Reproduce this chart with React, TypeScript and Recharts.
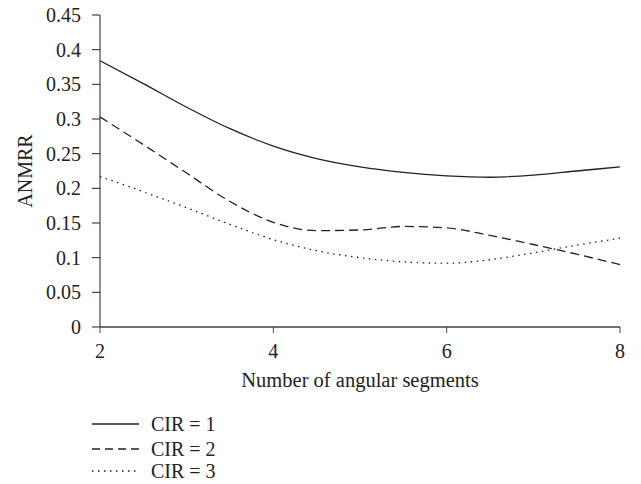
import React from "react"
import { LineChart, Line, XAxis, YAxis, Label } from "recharts"

// x positions (number of angular segments)
const segments = [2, 2.5, 3, 3.5, 4, 4.5, 5, 5.5, 6, 6.5, 7, 7.5, 8]
// ANMRR values
const cir1 = [0.384, 0.351, 0.317, 0.286, 0.261, 0.243, 0.231, 0.223, 0.218, 0.216, 0.219, 0.225, 0.231]
const cir2 = [0.303, 0.263, 0.222, 0.181, 0.151, 0.139, 0.14, 0.145, 0.143, 0.132, 0.119, 0.105, 0.09]
const cir3 = [0.217, 0.195, 0.172, 0.148, 0.126, 0.11, 0.1, 0.094, 0.092, 0.097, 0.107, 0.118, 0.128]

const yTicks = [0, 0.05, 0.1, 0.15, 0.2, 0.25, 0.3, 0.35, 0.4, 0.45]
const xTicks = [2, 4, 6, 8]

const seriesNames = ["CIR = 1", "CIR = 2", "CIR = 3"]
const dashes = ["", "9 5", "1.5 4.5"]
const legendDashes = ["", "8 5", "1.5 4.5"]

const data = segments.map((x, i) => ({ x, c1: cir1[i], c2: cir2[i], c3: cir3[i] }))

const font = "'Liberation Serif', 'Times New Roman', serif"
const ink = "#222"
const axisColor = "#444"
const tickStyle = { fill: ink, fontSize: 20, fontFamily: font }

const fmt = (v: number) => String(Number(v.toFixed(2)))

export default function App() {
  const keys = ["c1", "c2", "c3"]
  return (
    <div style={{ position: "absolute", left: 0, top: 0, width: 641, height: 484, background: "#fff", fontFamily: font }}>
      <LineChart width={641} height={484} data={data} margin={{ top: 15, right: 21, left: 0, bottom: 0 }}>
        <XAxis
          dataKey="x"
          type="number"
          domain={[2, 8]}
          ticks={xTicks}
          height={157}
          tick={tickStyle}
          tickSize={6}
          tickMargin={11}
          stroke={axisColor}
          tickLine={{ stroke: axisColor }}
          axisLine={{ stroke: axisColor, strokeWidth: 1.3 }}
        >
          <Label
            value="Number of angular segments"
            position="insideTop"
            offset={45}
            style={{ fill: ink, fontSize: 20.5, fontFamily: font }}
          />
        </XAxis>
        <YAxis
          type="number"
          domain={[0, 0.45]}
          ticks={yTicks}
          width={100}
          tick={tickStyle}
          tickSize={8}
          tickMargin={11}
          tickFormatter={fmt}
          stroke={ink}
          interval={0}
        >
          <Label
            value="ANMRR"
            angle={-90}
            position="insideLeft"
            offset={25}
            style={{ fill: ink, fontSize: 20, fontFamily: font, textAnchor: "middle" }}
          />
        </YAxis>
        {keys.map((k, i) => (
          <Line
            key={k}
            dataKey={k}
            name={seriesNames[i]}
            type="monotone"
            stroke={ink}
            strokeWidth={1.3}
            strokeDasharray={dashes[i] || undefined}
            dot={false}
            activeDot={false}
            isAnimationActive={false}
          />
        ))}
      </LineChart>
      {seriesNames.map((name, i) => (
        <div
          key={name}
          style={{
            position: "absolute",
            left: 92,
            top: [424, 449, 471][i] - 12,
            height: 24,
            display: "flex",
            alignItems: "center",
          }}
        >
          <svg width={48} height={24} style={{ display: "block" }}>
            <line x1={0} y1={12} x2={47} y2={12} stroke={ink} strokeWidth={1.3} strokeDasharray={legendDashes[i] || undefined} />
          </svg>
          <span style={{ marginLeft: 11, fontSize: 20, color: ink, lineHeight: "24px" }}>{name}</span>
        </div>
      ))}
    </div>
  )
}
